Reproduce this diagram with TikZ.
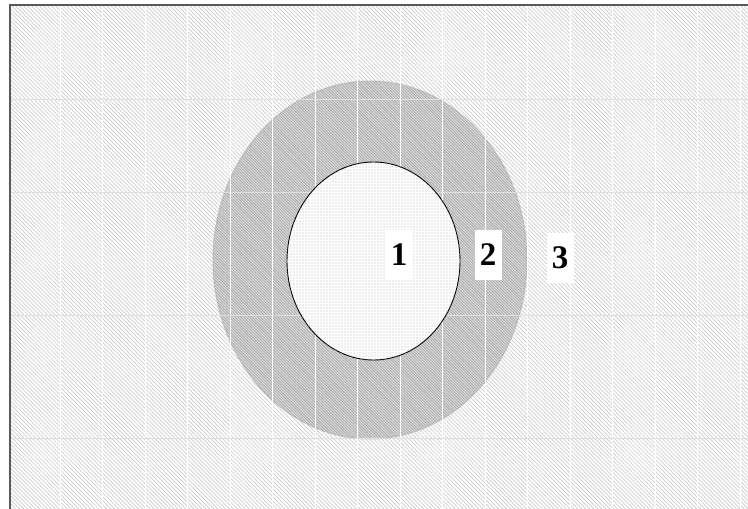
\documentclass[tikz,border=0pt]{standalone}
\usepackage{fontspec}
\setmainfont{Liberation Serif}
\usetikzlibrary{patterns.meta}

\begin{document}
\begin{tikzpicture}[x=1pt, y=-1pt,
        zone3/.style={fill=white, postaction={pattern={Lines[angle=-45, distance=2.8pt, line width=0.7pt]}, pattern color=gray!40}},
        zone2/.style={draw=gray!45, line width=1pt, fill=gray!25, postaction={pattern={Lines[angle=-45, distance=2pt, line width=0.8pt]}, pattern color=gray!70}},
        zone1/.style={draw=black, line width=0.9pt, fill=white, postaction={pattern={Dots[distance=3pt, radius=0.6pt]}, pattern color=gray!60}},
        tile/.style={line width=0.8pt},
        label/.style={fill=white, font=\fontsize{33}{33}\selectfont\bfseries, minimum width=27pt, minimum height=50pt, inner sep=0pt}]
        \useasboundingbox (0,0) rectangle (748,509);
        \fill[white] (0,0) rectangle (748,509);
        \path[zone3] (10,5) rectangle (748,509);
        \path[zone2] (370,260) ellipse [x radius=157, y radius=179];
        % rendering tile seams
        \foreach \x in {0,...,16}
            \draw[tile, white] (60+42.5*\x,5) -- (60+42.5*\x,509);
        \foreach \y in {99,192,315,438}
            \draw[tile, gray!25] (10,\y) -- (748,\y);
        \path[zone1] (373.5,261) ellipse [x radius=86.5, y radius=99];
        \draw[line width=1.6pt, gray!70!black] (10,509) -- (10,5) -- (748,5);

        \node[label] (z1) at (399,255) {1};
        \node[label] (z2) at (488,255) {2};
        \node[label] (z3) at (560,258) {3};
\end{tikzpicture}
\end{document}
